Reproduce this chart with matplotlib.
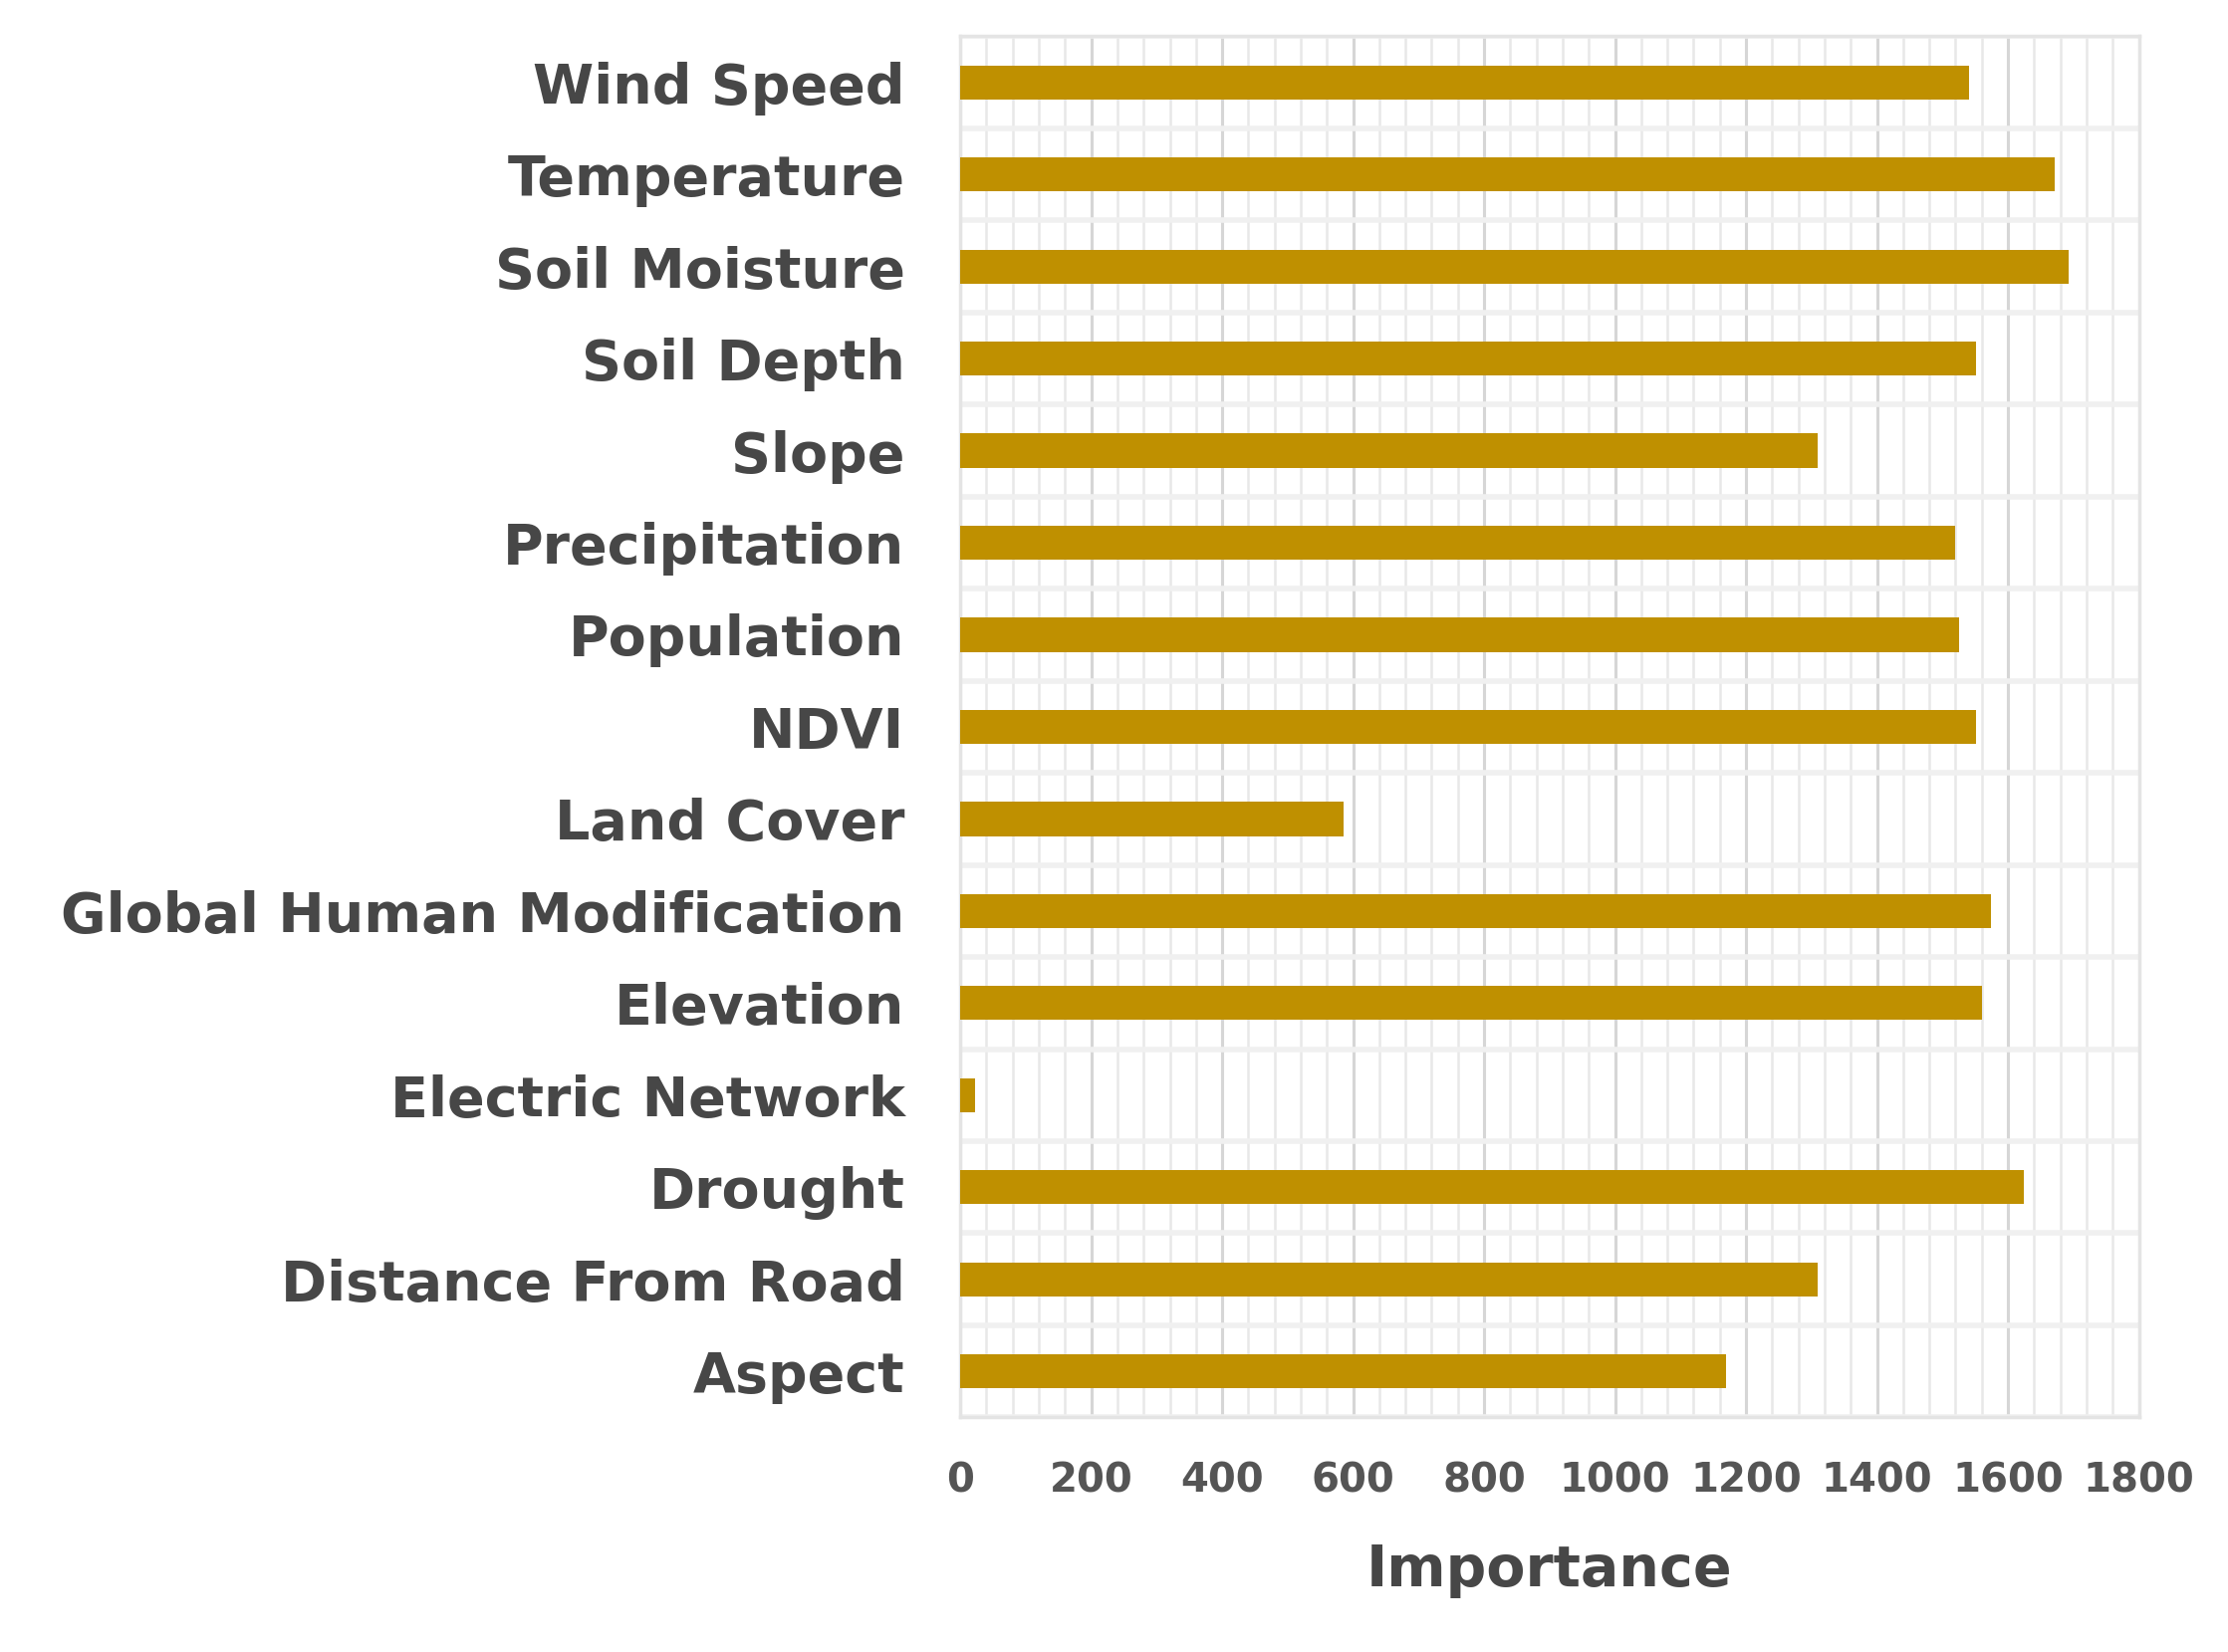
import numpy as np
import matplotlib
matplotlib.use("Agg")
import matplotlib.pyplot as plt
from matplotlib.ticker import MultipleLocator

# factors, bottom to top as drawn
factors = ["Aspect", "Distance From Road", "Drought", "Electric Network",
           "Elevation", "Global Human Modification", "Land Cover", "NDVI",
           "Population", "Precipitation", "Slope", "Soil Depth",
           "Soil Moisture", "Temperature", "Wind Speed"]
importance = [1170, 1309, 1624, 22, 1561, 1574, 586, 1552,
              1526, 1520, 1309, 1552, 1693, 1672, 1540]
xticks = [0, 200, 400, 600, 800, 1000, 1200, 1400, 1600, 1800]

txt = "#474747"

fig = plt.figure(figsize=(22.37, 16.59), dpi=100)
ax = fig.add_axes([0.431, 0.142, 0.529, 0.836])

y = np.arange(len(factors))
ax.barh(y, importance, height=0.37, color="#BF9000", zorder=3)

ax.set_xlim(0, 1800)
ax.set_ylim(-0.5, len(factors) - 0.5)
ax.set_xticks(xticks)
ax.xaxis.set_minor_locator(MultipleLocator(40))
ax.set_yticks(y)
ax.set_yticklabels(factors, fontsize=40, fontweight="bold", color=txt)

# horizontal separators between categories
ax.set_yticks(np.arange(-0.5, len(factors), 1), minor=True)
ax.grid(True, which="major", axis="x", color="#d6d6d6", lw=2.2, zorder=0)
ax.grid(True, which="minor", axis="x", color="#e8e8e8", lw=1.8, zorder=0)
ax.grid(True, which="minor", axis="y", color="#f0f0f0", lw=4, zorder=0)

ax.tick_params(axis="both", which="both", length=0)
ax.tick_params(axis="y", pad=40)
ax.tick_params(axis="x", pad=32)
for lb in ax.get_xticklabels():
    lb.set_family(["Liberation Sans Narrow", "DejaVu Sans"])
    lb.set_fontsize(29)
    lb.set_fontweight("bold")
    lb.set_color("#555555")

for s in ax.spines.values():
    s.set_color("#e4e4e4")
    s.set_linewidth(2.5)

ax.set_xlabel("Importance", fontsize=41, fontweight="bold", color=txt, labelpad=30)

fig.savefig("out.png", dpi=100)
